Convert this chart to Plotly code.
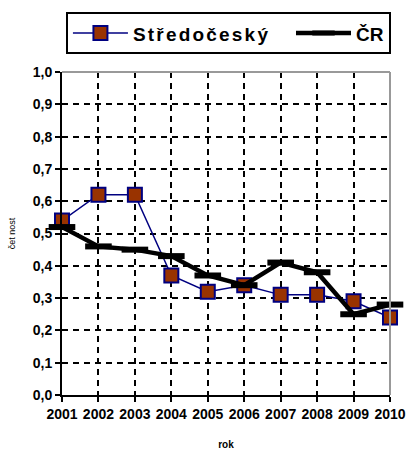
import plotly.graph_objects as go

years = [2001, 2002, 2003, 2004, 2005, 2006, 2007, 2008, 2009, 2010]
stredocesky = [0.54, 0.62, 0.62, 0.37, 0.32, 0.34, 0.31, 0.31, 0.29, 0.24]
cr = [0.52, 0.46, 0.45, 0.43, 0.37, 0.34, 0.41, 0.38, 0.25, 0.28]
y_ticks = [0.0, 0.1, 0.2, 0.3, 0.4, 0.5, 0.6, 0.7, 0.8, 0.9, 1.0]

fig = go.Figure()
fig.add_trace(go.Scatter(
    x=years, y=stredocesky,
    name='<span style="letter-spacing:2.2px">Středočeský</span>\u00a0\u00a0\u00a0',
    mode="lines+markers",
    line=dict(color="#000080", width=1.5),
    marker=dict(symbol="square", size=14, color="#993300",
                line=dict(color="#000080", width=2)),
    cliponaxis=False,
))
fig.add_trace(go.Scatter(
    x=years, y=cr, name="ČR", mode="lines+markers",
    line=dict(color="black", width=4.5),
    marker=dict(symbol="line-ew", size=19, color="black",
                line=dict(color="black", width=6)),
    cliponaxis=False,
))

font_main = "Liberation Sans, Arial, sans-serif"
fig.update_layout(
    width=408, height=450,
    margin=dict(l=62, r=18, t=70, b=55),
    paper_bgcolor="white", plot_bgcolor="white",
    separators=", ",
    font=dict(family=font_main, color="black"),
    showlegend=True,
    legend=dict(
        orientation="h", x=0.012, xanchor="left", y=1.185, yanchor="top",
        bordercolor="black", borderwidth=2, bgcolor="white",
        font=dict(size=19, family=font_main, weight="bold"),
        itemwidth=55, tracegroupgap=0,
    ),
    xaxis=dict(
        range=[2001, 2010], tickmode="array", tickvals=years,
        ticktext=[str(y) for y in years],
        showgrid=True, gridcolor="black", gridwidth=2, griddash="6px,5px",
        showline=True, linecolor="black", linewidth=2,
        ticks="outside", ticklen=5, tickwidth=2, tickcolor="black",
        tickfont=dict(size=14, weight="bold"),
        title=dict(text="rok", font=dict(size=10, weight="bold"), standoff=20),
        zeroline=False, automargin=False,
    ),
    yaxis=dict(
        range=[0, 1], tickmode="array", tickvals=y_ticks,
        tickformat=".1f",
        showgrid=True, gridcolor="black", gridwidth=2, griddash="6px,5px",
        showline=True, linecolor="black", linewidth=2,
        ticks="outside", ticklen=5, tickwidth=2, tickcolor="black",
        tickfont=dict(size=14, weight="bold"),
        title=dict(text="čet nost", font=dict(size=9), standoff=16),
        zeroline=False, automargin=False,
    ),
    shapes=[
        dict(type="line", xref="paper", yref="paper", x0=0, x1=1, y0=1, y1=1,
             line=dict(color="#999999", width=2)),
        dict(type="line", xref="paper", yref="paper", x0=1, x1=1, y0=0, y1=1,
             line=dict(color="#999999", width=2)),
    ],
)

fig.write_html("out.html",
               config={"displayModeBar": False},
               post_script="document.body.style.margin='0';document.body.style.overflow='hidden';")
